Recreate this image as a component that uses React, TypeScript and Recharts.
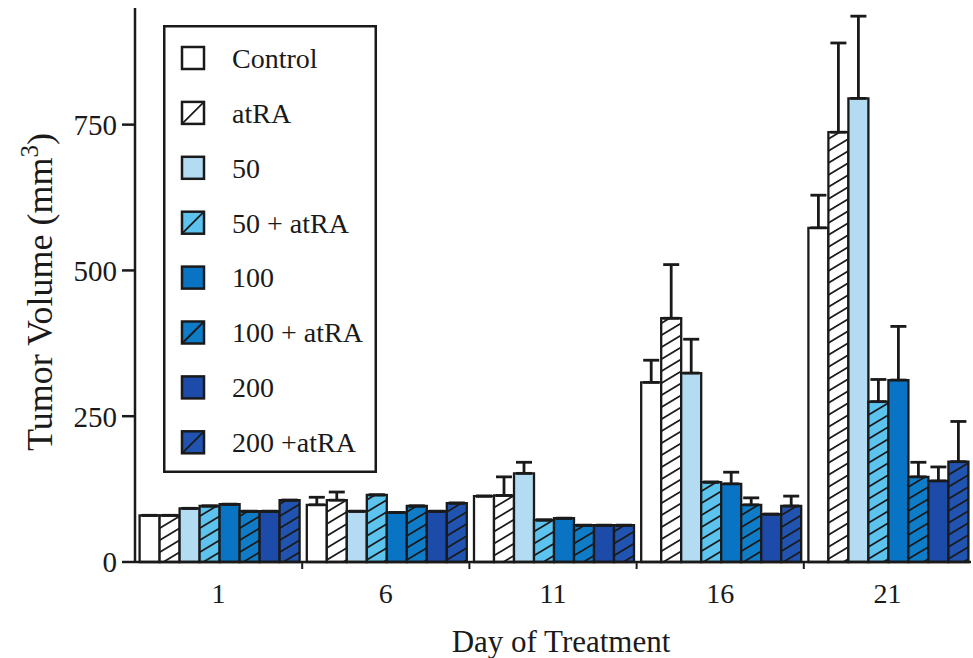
import React from "react";
import { Bar, BarChart, ErrorBar, Legend, XAxis, YAxis } from "recharts";

// days on the x axis
const days = ["1", "6", "11", "16", "21"];

// mean tumour volume (mm3) per group, one value per day
const control = [80, 98, 113, 308, 573];
const atRA = [80, 106, 114, 418, 737];
const dose50 = [92, 87, 152, 324, 795];
const dose50atRA = [96, 115, 72, 137, 275];
const dose100 = [99, 85, 75, 134, 312];
const dose100atRA = [87, 96, 63, 98, 146];
const dose200 = [87, 87, 63, 82, 139];
const dose200atRA = [106, 101, 63, 96, 172];

// upper error (SE) per group, one value per day
const controlErr = [0, 13, 0, 38, 56];
const atRAErr = [0, 14, 32, 92, 153];
const dose50Err = [0, 0, 19, 58, 141];
const dose50atRAErr = [0, 0, 0, 0, 38];
const dose100Err = [0, 0, 0, 20, 92];
const dose100atRAErr = [0, 0, 0, 12, 25];
const dose200Err = [0, 0, 0, 0, 24];
const dose200atRAErr = [0, 0, 0, 17, 69];

const yTicks = [0, 250, 500, 750];

const FONT = "'Liberation Serif', 'Times New Roman', serif";
const INK = "#1a1a1a";

const series = [
  { key: "control", name: "Control", values: control, err: controlErr, fill: "#ffffff", hatch: false },
  { key: "atRA", name: "atRA", values: atRA, err: atRAErr, fill: "#ffffff", hatch: true },
  { key: "d50", name: "50", values: dose50, err: dose50Err, fill: "#b3dcf2", hatch: false },
  { key: "d50atRA", name: "50 + atRA", values: dose50atRA, err: dose50atRAErr, fill: "#5cc3ee", hatch: true },
  { key: "d100", name: "100", values: dose100, err: dose100Err, fill: "#0a74c4", hatch: false },
  { key: "d100atRA", name: "100 + atRA", values: dose100atRA, err: dose100atRAErr, fill: "#0f7cc8", hatch: true },
  { key: "d200", name: "200", values: dose200, err: dose200Err, fill: "#1c4ba9", hatch: false },
  { key: "d200atRA", name: "200 +atRA", values: dose200atRA, err: dose200atRAErr, fill: "#2153b1", hatch: true },
];

const data = days.map((day, i) => {
  const row: any = { day };
  series.forEach((s) => {
    row[s.key] = s.values[i];
    row[s.key + "Err"] = [0, s.err[i]];
  });
  return row;
});

const DayTick = (props: any) => {
  const { x, y, payload, index } = props;
  const half = payload.offset || 83.6;
  return (
    <g>
      {index > 0 && (
        <line x1={x - half} x2={x - half} y1={y} y2={y + 7} stroke={INK} strokeWidth={2} />
      )}
      <text x={x} y={y + 41} textAnchor="middle" fontFamily={FONT} fontSize={28} fill={INK}>
        {payload.value}
      </text>
    </g>
  );
};

const LegendBox = () => (
  <svg width={214} height={448}>
    <rect x={1.25} y={1.25} width={211.5} height={445.5} fill="#fff" stroke={INK} strokeWidth={2.5} />
    {series.map((s, i) => {
      const cy = 33 + i * 54.9;
      return (
        <g key={s.key}>
          <rect x={19} y={cy - 11} width={22} height={22} fill={s.fill} stroke={INK} strokeWidth={2.5} />
          {s.hatch && <line x1={20} y1={cy + 10} x2={40} y2={cy - 10} stroke={INK} strokeWidth={1.8} />}
          <text x={69} y={cy} dy="0.35em" fontFamily={FONT} fontSize={28} fill={INK}>
            {s.name}
          </text>
        </g>
      );
    })}
  </svg>
);

const YTitle = () => {
  const cx = 52;
  const cy = 292;
  return (
    <text
      x={cx}
      y={cy}
      transform={`rotate(-90 ${cx} ${cy})`}
      textAnchor="middle"
      fontFamily={FONT}
      fontSize={36}
      fill={INK}
    >
      Tumor Volume (mm
      <tspan dy={-14} fontSize={25}>3</tspan>
      <tspan dy={14}>)</tspan>
    </text>
  );
};

const XTitle = (props: any) => {
  const vb = props.viewBox || { x: 135, y: 562, width: 836 };
  return (
    <text
      x={vb.x + vb.width / 2 + 8}
      y={vb.y + 90}
      textAnchor="middle"
      fontFamily={FONT}
      fontSize={31}
      fill={INK}
    >
      Day of Treatment
    </text>
  );
};

const axisStyle = { stroke: INK, strokeWidth: 2.5 };

export default function App() {
  return (
    <div style={{ position: "absolute", left: 0, top: 0, background: "#fff" }}>
      <BarChart
        width={973}
        height={658}
        data={data}
        margin={{ top: 8, right: 2, bottom: 0, left: 0 }}
        barCategoryGap={4.6}
        barGap={0}
      >
        <defs>
          {series
            .filter((s) => s.hatch)
            .map((s) => (
              <pattern
                key={s.key}
                id={`hatch-${s.key}`}
                patternUnits="userSpaceOnUse"
                width={20}
                height={12}
              >
                <rect width={20} height={12} fill={s.fill} />
                <path
                  d="M0,12 L20,0 M-2,1.2 L2,-1.2 M18,13.2 L22,10.8"
                  stroke={INK}
                  strokeWidth={1.8}
                />
              </pattern>
            ))}
        </defs>
        <XAxis
          dataKey="day"
          height={96}
          interval={0}
          tickLine={false}
          tickSize={0}
          tickMargin={0}
          axisLine={axisStyle}
          tick={<DayTick />}
          label={<XTitle />}
        />
        <XAxis
          xAxisId="top"
          dataKey="day"
          orientation="top"
          height={0}
          tick={false}
          tickLine={false}
          axisLine={axisStyle}
        />
        <YAxis
          type="number"
          domain={[0, 950]}
          ticks={yTicks}
          width={135}
          tickSize={13}
          tickMargin={5}
          tickLine={{ stroke: INK, strokeWidth: 2.5 }}
          axisLine={axisStyle}
          tick={{ fontFamily: FONT, fontSize: 29, fill: INK }}
          label={<YTitle />}
        />
        <YAxis
          yAxisId="right"
          orientation="right"
          type="number"
          domain={[0, 950]}
          width={0}
          tick={false}
          tickLine={false}
          axisLine={axisStyle}
        />
        <Legend
          layout="vertical"
          align="center"
          verticalAlign="middle"
          content={() => <LegendBox />}
          wrapperStyle={{ left: 163, top: 25, width: 214, height: 448 }}
        />
        {series.map((s) => (
          <Bar
            key={s.key}
            dataKey={s.key}
            name={s.name}
            fill={s.hatch ? `url(#hatch-${s.key})` : s.fill}
            stroke={INK}
            strokeWidth={2.3}
            isAnimationActive={false}
          >
            <ErrorBar
              dataKey={s.key + "Err"}
              direction="y"
              width={8}
              stroke={INK}
              strokeWidth={2.8}
              isAnimationActive={false}
            />
          </Bar>
        ))}
      </BarChart>
    </div>
  );
}
